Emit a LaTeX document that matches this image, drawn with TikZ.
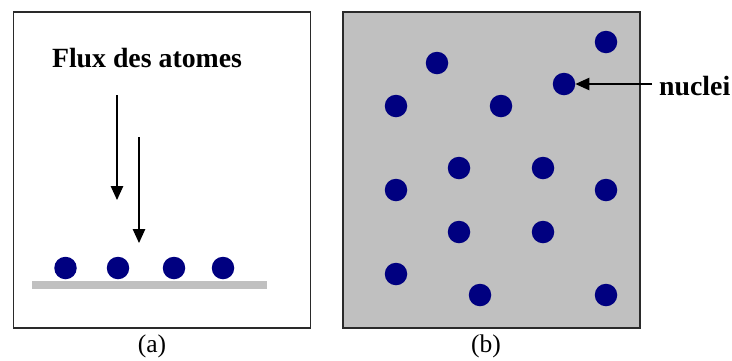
\documentclass[tikz,border=0pt]{standalone}
\usepackage{fontspec}
\setmainfont{Liberation Serif}
\usetikzlibrary{arrows.meta}
\definecolor{dotblue}{HTML}{000080}
\definecolor{lightgray}{HTML}{C0C0C0}
\definecolor{frame}{HTML}{2A2A2A}
\begin{document}
\begin{tikzpicture}[x=1pt,y=-1pt,
  dot/.style={circle,fill=dotblue,inner sep=0pt,minimum size=22.5pt},
  panel/.style={draw=frame,line width=1.6pt},
  arr/.style={draw=black,line width=1.2pt,-{Triangle[length=14pt,width=12.5pt]}},
  lbl/.style={font=\fontsize{25.5}{28}\selectfont,inner sep=0pt},
  bold/.style={font=\fontsize{27.8}{30}\selectfont\bfseries,inner sep=2pt}]
\useasboundingbox (0,0) rectangle (732,360);
% panel (a)
\node[panel,minimum width=297pt,minimum height=316pt,inner sep=0pt,anchor=north west] (boxa) at (12.5,11) {};
\node[fill=lightgray,minimum width=235pt,minimum height=8pt,inner sep=0pt] (sub) at (149.5,285) {};
\node[dot] (a1) at (65.5,268) {};
\node[dot] (a2) at (118,268) {};
\node[dot] (a3) at (174,268) {};
\node[dot] (a4) at (223,268) {};
\node[bold] (flux) at (147,58) {Flux des atomes};
\coordinate (f1s) at (117,95);
\coordinate (f1e) at (117,200);
\coordinate (f2s) at (139,137);
\coordinate (f2e) at (139,243);
\draw[arr] (f1s) -- (f1e);
\draw[arr] (f2s) -- (f2e);
\node[lbl] (la) at (152,346) {(a)};
% panel (b)
\node[panel,fill=lightgray,minimum width=297pt,minimum height=316pt,inner sep=0pt,anchor=north west] (boxb) at (342,11) {};
\node[dot] (b1) at (606,42) {};
\node[dot] (b2) at (437,63) {};
\node[dot] (b3) at (564,84) {};
\node[dot] (b4) at (396,106) {};
\node[dot] (b5) at (501,106) {};
\node[dot] (b6) at (459,168) {};
\node[dot] (b7) at (543,168) {};
\node[dot] (b8) at (396,190) {};
\node[dot] (b9) at (606,190) {};
\node[dot] (b10) at (459,232) {};
\node[dot] (b11) at (543,232) {};
\node[dot] (b12) at (396,274) {};
\node[dot] (b13) at (480,295) {};
\node[dot] (b14) at (606,295) {};
\node[bold,anchor=west,inner sep=0pt] (nuc) at (659,86) {nuclei};
\coordinate (nucs) at (652,84);
\draw[arr] (nucs) -- (b3);
\node[lbl] (lb) at (486,346) {(b)};
\end{tikzpicture}
\end{document}
